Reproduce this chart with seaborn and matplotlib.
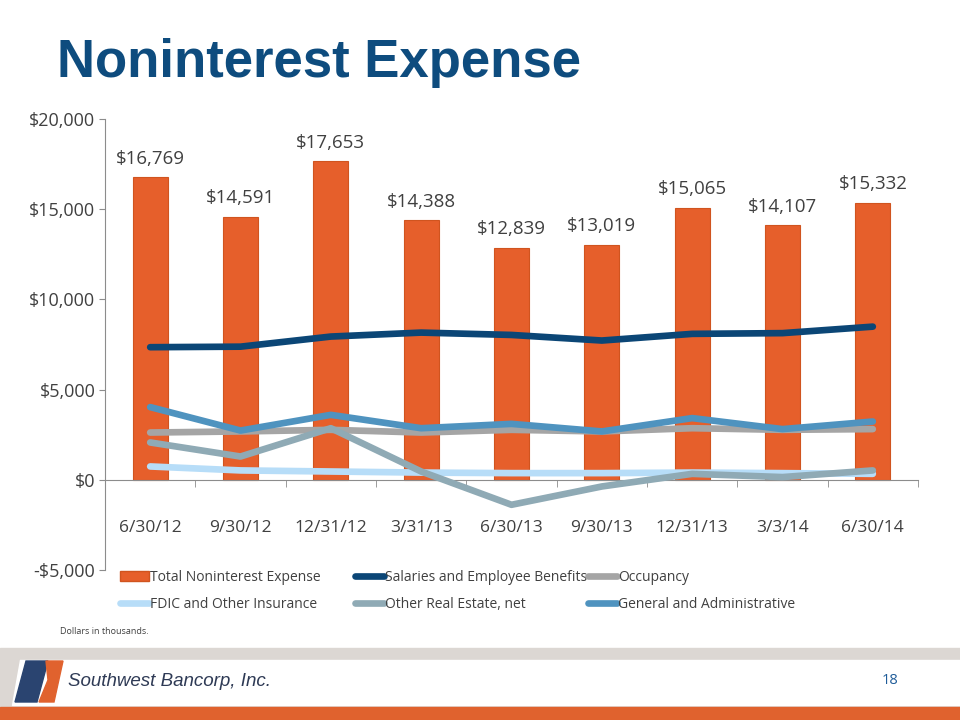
import numpy as np
import pandas as pd
import matplotlib.pyplot as plt
import seaborn as sb
from matplotlib.patches import Rectangle, Polygon, Patch
from matplotlib.lines import Line2D

periods = ['6/30/12', '9/30/12', '12/31/12', '3/31/13', '6/30/13',
           '9/30/13', '12/31/13', '3/3/14', '6/30/14']
total = [16769, 14591, 17653, 14388, 12839, 13019, 15065, 14107, 15332]
salaries = [7350, 7380, 7940, 8160, 8030, 7720, 8090, 8130, 8490]
occupancy = [2620, 2680, 2770, 2620, 2770, 2680, 2860, 2770, 2810]
fdic = [740, 520, 460, 400, 370, 370, 400, 370, 330]
other_re = [2070, 1290, 2860, 460, -1385, -370, 330, 150, 520]
gen_admin = [4030, 2730, 3600, 2860, 3100, 2680, 3420, 2810, 3230]

series = [
    ('Salaries and Employee Benefits', salaries, '#0B4676'),
    ('Occupancy', occupancy, '#A5A5A5'),
    ('FDIC and Other Insurance', fdic, '#B7DDF8'),
    ('Other Real Estate, net', other_re, '#8FAAB5'),
    ('General and Administrative', gen_admin, '#4F93BF'),
]

plt.rcParams['font.family'] = ['Open Sans', 'DejaVu Sans']
text_col = '#404040'
bar_col = '#E65F2B'

fig = plt.figure(figsize=(9.6, 7.2), dpi=100)
ax = fig.add_axes([105 / 960, 1 - 570 / 720, 813 / 960, 451 / 720])

pos = np.arange(len(periods))
bars = pd.DataFrame({'pos': pos, 'total': total})
sb.barplot(data=bars, x='pos', y='total', color=bar_col, width=0.39,
           saturation=1, edgecolor='#D0541F', linewidth=0.8, ax=ax, zorder=2)

for name, vals, col in series:
    df = pd.DataFrame({'pos': pos, 'v': vals})
    sb.lineplot(data=df, x='pos', y='v', color=col, linewidth=4.8, ax=ax,
                zorder=3, solid_capstyle='round')

for p, v in zip(pos, total):
    ax.annotate(f'${v:,}', (p, v), xytext=(0, 7), textcoords='offset points',
                ha='center', va='bottom', fontsize=13.5, color=text_col)

ax.set_xlim(-0.5, len(periods) - 0.5)
ax.set_ylim(-5000, 20000)
ax.set_yticks([-5000, 0, 5000, 10000, 15000, 20000])
ax.set_yticklabels(['-$5,000', '$0', '$5,000', '$10,000', '$15,000', '$20,000'])
ax.set_xticks(pos)
ax.set_xticklabels(periods)
ax.set_xticks(np.arange(len(periods) + 1) - 0.5, minor=True)
ax.set_xlabel('')
ax.set_ylabel('')

for s in ['top', 'right']:
    ax.spines[s].set_visible(False)
ax.spines['left'].set_color('#8C8C8C')
ax.spines['bottom'].set_color('#8C8C8C')
ax.spines['bottom'].set_position(('data', 0))
ax.tick_params(axis='y', colors='#8C8C8C', labelcolor=text_col, labelsize=13,
               length=4, direction='out', pad=3)
ax.tick_params(axis='x', which='major', length=0, pad=29, labelcolor=text_col,
               labelsize=12.5)
ax.tick_params(axis='x', which='minor', length=5, color='#8C8C8C')
ax.set_facecolor('none')

# legend, placed column by column like the original
bar_handle = Patch(facecolor=bar_col, edgecolor='#D0541F',
                   label='Total Noninterest Expense')
line_handles = [Line2D([0], [0], color=col, linewidth=4.8,
                       solid_capstyle='round', label=name)
                for name, vals, col in series]
columns = [
    (120, [bar_handle, line_handles[2]]),
    (355, [line_handles[0], line_handles[3]]),
    (588, [line_handles[1], line_handles[4]]),
]
for x0, hs in columns:
    fig.legend(hs, [h.get_label() for h in hs], loc='upper left',
               bbox_to_anchor=(x0 / 960, 1 - 570 / 720), borderaxespad=0,
               borderpad=0, frameon=False, fontsize=10, handlelength=2.1,
               handletextpad=0.05, labelspacing=0.85, labelcolor=text_col)

fig.text(57 / 960, 1 - 63 / 720, 'Noninterest Expense', fontsize=38,
         fontweight='bold', color='#0E4C7E', va='center', ha='left',
         family=['Liberation Sans', 'DejaVu Sans'])
fig.text(60 / 960, 1 - 632 / 720, 'Dollars in thousands.', fontsize=6.5,
         color='#404040', va='center')

# footer band
fig.patches.append(Rectangle((0, 0), 1, 72 / 720, transform=fig.transFigure,
                             color='#DCD7D3', zorder=0))
fig.patches.append(Polygon([(12 / 960, 15 / 720), (960 / 960, 15 / 720),
                            (960 / 960, 60 / 720), (20 / 960, 60 / 720)],
                           closed=True, transform=fig.transFigure,
                           color='white', zorder=1))
fig.patches.append(Rectangle((0, 0), 1, 13 / 720, transform=fig.transFigure,
                             color='#E0622E', zorder=1))
fig.patches.append(Polygon([(15 / 960, 1 - 702 / 720), (26 / 960, 1 - 661 / 720),
                            (48 / 960, 1 - 661 / 720), (37 / 960, 1 - 702 / 720)],
                           closed=True, transform=fig.transFigure,
                           color='#2A4470', zorder=2))
fig.patches.append(Polygon([(39 / 960, 1 - 702 / 720), (48 / 960, 1 - 680 / 720),
                            (46 / 960, 1 - 661 / 720), (63 / 960, 1 - 661 / 720),
                            (54 / 960, 1 - 702 / 720)],
                           closed=True, transform=fig.transFigure,
                           color='#E0622E', zorder=2))
fig.text(68 / 960, 1 - 682 / 720, 'Southwest Bancorp, Inc.', fontsize=13.5,
         style='italic', color='#2E3A55', va='center',
         family=['Liberation Sans', 'DejaVu Sans'])
fig.text(890 / 960, 1 - 680 / 720, '18', fontsize=10.5, color='#1F5C99',
         va='center', ha='center')

fig.savefig('out.png', dpi=100)
